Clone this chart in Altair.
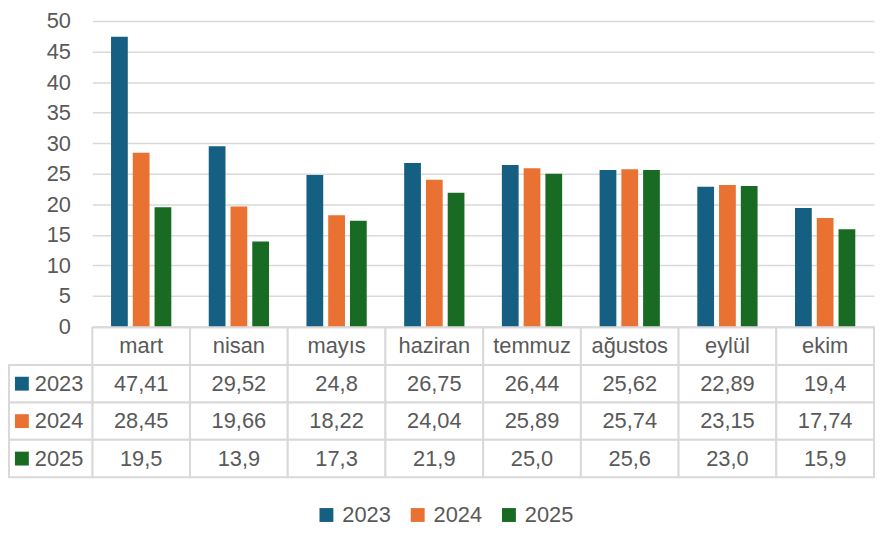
import altair as alt
import pandas as pd

months = ["mart", "nisan", "mayıs", "haziran", "temmuz", "ağustos", "eylül", "ekim"]
years = ["2023", "2024", "2025"]
values_2023 = [47.41, 29.52, 24.8, 26.75, 26.44, 25.62, 22.89, 19.4]
values_2024 = [28.45, 19.66, 18.22, 24.04, 25.89, 25.74, 23.15, 17.74]
values_2025 = [19.5, 13.9, 17.3, 21.9, 25.0, 25.6, 23.0, 15.9]
colors = ["#156082", "#E97132", "#196B24"]
y_ticks = [0, 5, 10, 15, 20, 25, 30, 35, 40, 45, 50]


def fmt_general(v):
    return f"{v:g}".replace(".", ",")


def fmt_one(v):
    return f"{v:.1f}".replace(".", ",")


rows = []
for yr, vals, f in [("2023", values_2023, fmt_general),
                    ("2024", values_2024, fmt_general),
                    ("2025", values_2025, fmt_one)]:
    for m, v in zip(months, vals):
        rows.append({"month": m, "year": yr, "value": v, "label": f(v), "row": yr})
df = pd.DataFrame(rows)

header_df = pd.DataFrame({"month": months, "row": ["header"] * len(months), "label": months})
cells_df = pd.concat([header_df, df[["month", "row", "label"]]], ignore_index=True)
row_domain = ["header"] + years
left_df = pd.DataFrame({"col": ["legend"] * 3, "row": years, "year": years})

FONT = "Liberation Sans"
FS = 22
TXT = "#595959"
GRID = "#d9d9d9"
W = 788
LEFT = 84
TABLE_H = 151

xscale = alt.Scale(domain=months, paddingInner=0, paddingOuter=0)
color_scale = alt.Scale(domain=years, range=colors)
yrow = alt.Y("row:N", scale=alt.Scale(domain=row_domain, paddingInner=0, paddingOuter=0), axis=None)

bars = alt.Chart(df).mark_bar().encode(
    x=alt.X("month:N", scale=xscale, axis=None),
    xOffset=alt.XOffset("year:N", scale=alt.Scale(domain=years, paddingInner=0.23, paddingOuter=0.86)),
    y=alt.Y("value:Q", scale=alt.Scale(domain=[0, 50], nice=False),
            axis=alt.Axis(values=y_ticks, title=None, domain=False, ticks=False, grid=True,
                          gridColor=GRID, gridWidth=1.5, labelFont=FONT, labelFontSize=FS,
                          labelColor=TXT, labelPadding=22, minExtent=LEFT + 1)),
    color=alt.Color("year:N", scale=color_scale,
                    legend=alt.Legend(orient="none", direction="horizontal", legendX=225, legendY=487,
                                      title=None, symbolType="square", symbolSize=196,
                                      symbolStrokeWidth=0, labelFont=FONT, labelFontSize=FS,
                                      labelColor=TXT, labelOffset=5, columnPadding=16)),
).properties(width=W, height=308)

# table: month columns
tbase = alt.Chart(cells_df).encode(x=alt.X("month:N", scale=xscale, axis=None), y=yrow)
table_cells = alt.layer(
    tbase.mark_rect(fill="white", stroke=GRID, strokeWidth=2),
    tbase.mark_text(font=FONT, fontSize=FS, color=TXT).encode(text="label:N"),
)

# table: legend column to the left of the plot area
lx = alt.X("col:N", scale=alt.Scale(domain=["legend"], range=[-LEFT, 0], paddingInner=0, paddingOuter=0),
           axis=None)
lbase = alt.Chart(left_df).encode(x=lx, y=yrow)
table_left = alt.layer(
    lbase.mark_rect(fill="white", stroke=GRID, strokeWidth=2),
    lbase.mark_square(size=196, opacity=1, xOffset=-29).encode(
        color=alt.Color("year:N", scale=color_scale, legend=None)),
    lbase.mark_text(align="left", dx=-16, font=FONT, fontSize=FS, color=TXT).encode(text="year:N"),
)

table = alt.layer(table_cells, table_left).resolve_scale(x="independent").properties(
    width=W, height=TABLE_H)

chart = alt.vconcat(
    bars,
    table,
    spacing=1,
    bounds="flush",
).properties(
    padding={"left": 0, "top": 0, "right": 0, "bottom": 0}
).configure(font=FONT).configure_view(stroke=None)

chart.save("out.html", embed_options={"renderer": "svg", "actions": False})
